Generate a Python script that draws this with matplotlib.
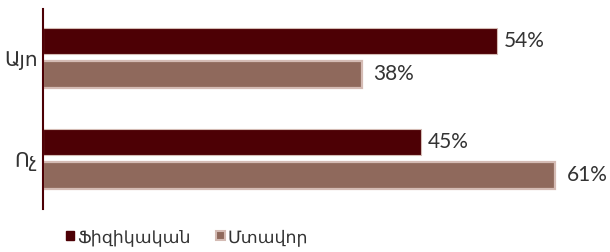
import numpy as np
import matplotlib.pyplot as plt
from matplotlib.patches import Patch

# ── Data ──────────────────────────────────────────────────────────────────────
categories = ['Այո', 'Ոչ']
series_names = ['Ֆիզիկական', 'Մտավոր']
physical = [54, 45]
mental = [38, 61]

DARK = '#4d0005'
LIGHT = '#8f695c'
EDGE = '#d4bbb4'
FONT = ['Lato', 'DejaVu Sans']

plt.rcParams['font.family'] = FONT

fig = plt.figure(figsize=(6.10, 2.53), dpi=100)
ax = fig.add_axes([43 / 610, 43 / 253, 1 - 43 / 610, 200 / 253])

y = np.arange(len(categories))
h = 0.265
off = 0.166
b1 = ax.barh(y - off, physical, height=h, color=DARK, edgecolor=EDGE, lw=0.8)
b2 = ax.barh(y + off, mental, height=h, color=LIGHT, edgecolor=EDGE, lw=1.6)

for bars, vals, pad in [(b1, physical, 5), (b2, mental, 8)]:
    for bar, v in zip(bars, vals):
        ax.annotate(f'{v}%', (bar.get_width(), bar.get_y() + bar.get_height() / 2),
                    xytext=(pad, 1), textcoords='offset points',
                    ha='left', va='center', fontsize=15, color='#333333')

ax.set_xlim(0, 67.5)
ax.set_ylim(-0.4827 + 200 / 101, -0.4827)
ax.set_xticks([])
ax.set_yticks(y)
ax.set_yticklabels(categories, fontsize=14.5, color='#333333')
ax.tick_params(axis='y', length=0, pad=4)
for s in ['top', 'right', 'bottom']:
    ax.spines[s].set_visible(False)
ax.spines['left'].set_color(DARK)
ax.spines['left'].set_linewidth(1.5)

handles = [Patch(facecolor=DARK, edgecolor=DARK),
           Patch(facecolor=LIGHT, edgecolor=EDGE, lw=1.5)]
fig.legend(handles, series_names, loc='center left', bbox_to_anchor=(50 / 610, 1 - 238 / 253),
           ncol=2, frameon=False, fontsize=12.5, handlelength=0.5, handleheight=0.5,
           handletextpad=0.15, columnspacing=1.5, labelcolor='#333333')

fig.savefig('out.png', dpi=100)
